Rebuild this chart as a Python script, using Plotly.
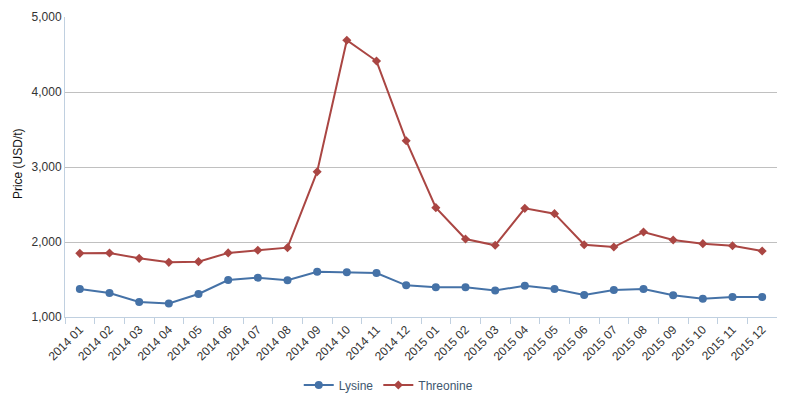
import plotly.graph_objects as go

months = ["2014 01", "2014 02", "2014 03", "2014 04", "2014 05", "2014 06",
          "2014 07", "2014 08", "2014 09", "2014 10", "2014 11", "2014 12",
          "2015 01", "2015 02", "2015 03", "2015 04", "2015 05", "2015 06",
          "2015 07", "2015 08", "2015 09", "2015 10", "2015 11", "2015 12"]
lysine = [1373, 1320, 1200, 1180, 1307, 1493, 1525, 1489, 1604, 1598, 1587, 1422,
          1396, 1396, 1353, 1418, 1373, 1293, 1360, 1373, 1289, 1244, 1267, 1267]
threonine = [1849, 1853, 1782, 1729, 1738, 1855, 1890, 1925, 2937, 4690, 4413, 3351,
             2458, 2040, 1956, 2449, 2378, 1964, 1933, 2133, 2027, 1978, 1951, 1880]

fig = go.Figure()
fig.add_trace(go.Scatter(x=months, y=lysine, name="Lysine", mode="lines+markers",
                         line=dict(color="#4572A7", width=2),
                         marker=dict(symbol="circle", size=8, color="#4572A7")))
fig.add_trace(go.Scatter(x=months, y=threonine, name="Threonine", mode="lines+markers",
                         line=dict(color="#AA4643", width=2),
                         marker=dict(symbol="diamond", size=7, color="#AA4643")))

fig.update_layout(
    width=777, height=390,
    margin=dict(l=57, r=8, t=9, b=81),
    plot_bgcolor="white", paper_bgcolor="white",
    font=dict(family="Liberation Sans, Arial, sans-serif", size=12, color="#333"),
    showlegend=True,
    legend=dict(orientation="h", x=0.454, xanchor="center",
                yref="container", y=0.0333, yanchor="middle",
                font=dict(size=12, color="#3E576F")),
    xaxis=dict(type="category", tickson="boundaries", ticks="outside", ticklen=6,
               tickcolor="#C0D0E0", showgrid=False, showline=True, linecolor="#C0D0E0",
               tickangle=-45, range=[-0.5, 23.5], automargin=False,
               tickfont=dict(size=12, color="#333")),
    yaxis=dict(range=[1000, 5000], dtick=1000, tickformat=",", showgrid=True,
               gridcolor="#C0C0C0", showline=True, linecolor="#C0D0E0", zeroline=False,
               automargin=False, tickfont=dict(size=12, color="#333")),
    annotations=[dict(text="Price (USD/t)", textangle=-90, xref="paper", yref="paper",
                      x=-0.0787, y=0.513, xanchor="left", yanchor="middle",
                      showarrow=False, font=dict(size=12, color="#111"))],
)

fig.write_html("out.html")
